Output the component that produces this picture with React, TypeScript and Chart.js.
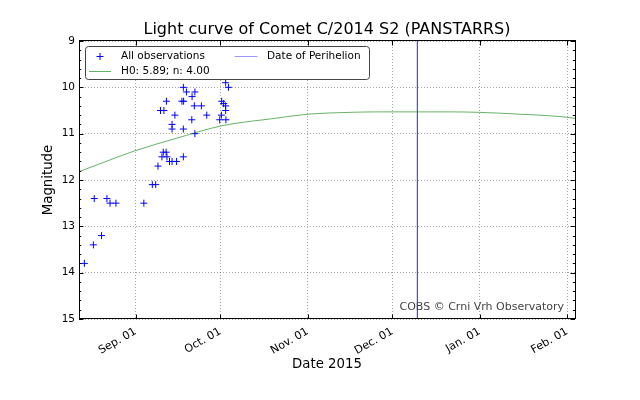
import React, { useEffect, useRef } from "react";
import { Chart, registerables } from "chart.js";

Chart.register(...registerables);

// Days are counted from 2015-09-01 00:00 UT
const obsDay = [
  -18.2, -15.0, -12.1, -14.7, -10.2, -9.1, -7.0, 2.9, 5.9, 7.1,
  7.9, 9.8, 10.8, 9.3, 11.1, 12.0, 12.9, 14.5, 16.9, 16.9,
  18.0, 21.0, 20.0, 10.9, 16.4, 17.0, 20.8, 23.3, 8.8, 10.0,
  13.9, 25.2, 19.9, 12.9, 12.9, 16.9, 21.0, 31.9, 32.9, 30.5,
  31.2, 31.9, 31.9, 30.4, 29.8, 32.0,
];
const obsMag = [
  13.8, 13.4, 13.2, 12.4, 12.4, 12.5, 12.5, 12.5, 12.1, 12.1,
  11.7, 11.4, 11.4, 11.5, 11.5, 11.6, 11.6, 11.6, 11.5, 10.0,
  10.1, 10.1, 10.2, 10.3, 10.3, 10.3, 10.4, 10.4, 10.5, 10.5,
  10.6, 10.6, 10.7, 10.8, 10.9, 10.9, 11.0, 9.9, 10.0, 10.3,
  10.35, 10.4, 10.5, 10.6, 10.7, 10.7,
];

const curveDay = [-20.1, -12.7, -0.3, 13.9, 30.5, 49.3, 61.1, 76, 85, 100, 111.5, 122, 136.3, 150.5, 155.8];
const curveMag = [11.82, 11.65, 11.37, 11.11, 10.83, 10.67, 10.58, 10.54, 10.53, 10.53, 10.53, 10.54, 10.58, 10.63, 10.67];

const perihelionDay = 99.9;

const tickDays = [0, 30, 61, 91, 122, 153];
const tickLabels = ["Sep. 01", "Oct. 01", "Nov. 01", "Dec. 01", "Jan. 01", "Feb. 01"];
const xMin = -20.1;
const xMax = 155.8;
const yMin = 9;
const yMax = 15;

const titleText = "Light curve of Comet C/2014 S2 (PANSTARRS)";
const xTitle = "Date 2015";
const yTitle = "Magnitude";
const obsLabel = "All observations";
const curveLabel = "H0: 5.89; n: 4.00";
const periLabel = "Date of Perihelion";
const creditText = "COBS \u00a9 Crni Vrh Observatory";

const FAMILY = "'DejaVu Sans', sans-serif";
const OBS_COLOR = "rgb(0,0,255)";
const CURVE_COLOR = "rgba(0,128,0,0.6)";
const PERI_COLOR = "rgba(0,0,255,0.4)";

const framePlugin = {
  id: "frameTicks",
  afterDraw(chart: any) {
    const { ctx, chartArea: a } = chart;
    const xs = chart.scales.x;
    const ys = chart.scales.y;
    ctx.save();
    ctx.strokeStyle = "#000";
    ctx.lineWidth = 1;
    ctx.beginPath();
    for (const d of tickDays) {
      const px = Math.round(xs.getPixelForValue(d)) + 0.5;
      ctx.moveTo(px, a.bottom);
      ctx.lineTo(px, a.bottom - 4.5);
      ctx.moveTo(px, a.top);
      ctx.lineTo(px, a.top + 4.5);
    }
    for (let i = 0; i <= 30; i++) {
      const v = yMin + i * 0.2;
      const py = Math.round(ys.getPixelForValue(v)) + 0.5;
      const len = i % 5 === 0 ? 4.5 : 2.2;
      ctx.moveTo(a.left, py);
      ctx.lineTo(a.left + len, py);
      ctx.moveTo(a.right, py);
      ctx.lineTo(a.right - len, py);
    }
    ctx.stroke();
    ctx.strokeRect(Math.round(a.left) + 0.5, Math.round(a.top) - 0.5, Math.round(a.right - a.left), Math.round(a.bottom - a.top));
    // credit
    ctx.font = `11px ${FAMILY}`;
    ctx.fillStyle = "#444";
    ctx.textAlign = "right";
    ctx.textBaseline = "alphabetic";
    ctx.fillText(creditText, a.right - 11, a.bottom - 9);
    ctx.restore();
  },
};

const legendPlugin = {
  id: "boxLegend",
  afterDraw(chart: any) {
    const { ctx, chartArea: a } = chart;
    const x0 = a.left + 6.5;
    const y0 = a.top + 5.5;
    const w = 284;
    const h = 33;
    const r = 3;
    ctx.save();
    ctx.beginPath();
    ctx.moveTo(x0 + r, y0);
    ctx.lineTo(x0 + w - r, y0);
    ctx.arcTo(x0 + w, y0, x0 + w, y0 + r, r);
    ctx.lineTo(x0 + w, y0 + h - r);
    ctx.arcTo(x0 + w, y0 + h, x0 + w - r, y0 + h, r);
    ctx.lineTo(x0 + r, y0 + h);
    ctx.arcTo(x0, y0 + h, x0, y0 + h - r, r);
    ctx.lineTo(x0, y0 + r);
    ctx.arcTo(x0, y0, x0 + r, y0, r);
    ctx.closePath();
    ctx.fillStyle = "#fff";
    ctx.fill();
    ctx.strokeStyle = "#444";
    ctx.lineWidth = 1;
    ctx.stroke();

    const row1 = Math.round(y0 + 9.5) + 0.5;
    const row2 = Math.round(y0 + 24.5) + 0.5;
    ctx.lineWidth = 1;
    // obs marker
    ctx.strokeStyle = OBS_COLOR;
    ctx.beginPath();
    ctx.moveTo(x0 + 14.5 - 3.5, row1);
    ctx.lineTo(x0 + 14.5 + 3.5, row1);
    ctx.moveTo(x0 + 14.5, row1 - 3.5);
    ctx.lineTo(x0 + 14.5, row1 + 3.5);
    ctx.stroke();
    // curve line
    ctx.strokeStyle = CURVE_COLOR;
    ctx.beginPath();
    ctx.moveTo(x0 + 3.5, row2);
    ctx.lineTo(x0 + 25.5, row2);
    ctx.stroke();
    // perihelion line
    ctx.strokeStyle = PERI_COLOR;
    ctx.beginPath();
    ctx.moveTo(x0 + 149, row1);
    ctx.lineTo(x0 + 172, row1);
    ctx.stroke();

    ctx.font = `10.5px ${FAMILY}`;
    ctx.fillStyle = "#000";
    ctx.textAlign = "left";
    ctx.textBaseline = "middle";
    ctx.fillText(obsLabel, x0 + 35.5, y0 + 9.5);
    ctx.fillText(curveLabel, x0 + 35.5, y0 + 24.5);
    ctx.fillText(periLabel, x0 + 181.5, y0 + 9.5);
    ctx.restore();
  },
};

export default function App() {
  const canvasRef = useRef<HTMLCanvasElement | null>(null);

  useEffect(() => {
    document.body.style.margin = "0";
    const canvas = canvasRef.current;
    if (!canvas) return;

    const obsPoints = obsDay.map((d, i) => ({ x: d, y: obsMag[i] }));
    const curvePoints = curveDay.map((d, i) => ({ x: d, y: curveMag[i] }));
    const periPoints = [
      { x: perihelionDay, y: yMin },
      { x: perihelionDay, y: yMax },
    ];

    const chart = new Chart(canvas, {
      type: "scatter",
      data: {
        datasets: [
          {
            label: curveLabel,
            data: curvePoints,
            showLine: true,
            borderColor: CURVE_COLOR,
            borderWidth: 1,
            pointRadius: 0,
            cubicInterpolationMode: "monotone",
          },
          {
            label: periLabel,
            data: periPoints,
            showLine: true,
            borderColor: PERI_COLOR,
            borderWidth: 1,
            pointRadius: 0,
          },
          {
            label: obsLabel,
            data: obsPoints,
            showLine: false,
            pointStyle: "cross",
            pointRadius: 3.5,
            borderColor: OBS_COLOR,
            backgroundColor: OBS_COLOR,
            pointBorderWidth: 1,
          },
        ],
      } as any,
      options: {
        animation: false,
        responsive: false,
        devicePixelRatio: 1,
        layout: { padding: { left: 0, right: 65, top: 0, bottom: 0 } },
        plugins: {
          legend: { display: false },
          tooltip: { enabled: false },
          title: {
            display: true,
            text: titleText,
            fullSize: false,
            color: "#000",
            font: { family: FAMILY, size: 16, weight: "normal" as any, lineHeight: 1.2 },
            padding: { top: 20, bottom: 1.8 },
          },
        },
        scales: {
          x: {
            type: "linear",
            min: xMin,
            max: xMax,
            afterBuildTicks: (s: any) => {
              s.ticks = tickDays.map((v) => ({ value: v }));
            },
            afterFit: (s: any) => {
              s.height = 81;
              s.paddingLeft = 0;
              s.paddingRight = 0;
            },
            ticks: {
              autoSkip: false,
              minRotation: 30,
              maxRotation: 30,
              padding: 6,
              color: "#000",
              font: { family: FAMILY, size: 11 },
              callback: (_v: any, i: number) => tickLabels[i],
            },
            grid: { color: "rgba(0,0,0,0.35)", lineWidth: 1, drawTicks: false },
            border: { display: false, dash: [1, 2] },
            title: {
              display: true,
              text: xTitle,
              color: "#000",
              font: { family: FAMILY, size: 13.3, lineHeight: 1.2 },
              padding: { top: 0, bottom: 27 },
            },
          },
          y: {
            type: "linear",
            reverse: true,
            min: yMin,
            max: yMax,
            afterFit: (s: any) => {
              s.width = 79;
              s.paddingTop = 0;
              s.paddingBottom = 0;
            },
            ticks: {
              stepSize: 1,
              padding: 4,
              color: "#000",
              font: { family: FAMILY, size: 10.5 },
            },
            grid: { color: "rgba(0,0,0,0.35)", lineWidth: 1, drawTicks: false },
            border: { display: false, dash: [1, 2] },
            title: {
              display: true,
              text: yTitle,
              color: "#000",
              font: { family: FAMILY, size: 13.3, lineHeight: 1.2 },
              padding: { top: 41, bottom: 0 },
            },
          },
        },
      } as any,
      plugins: [framePlugin, legendPlugin],
    });

    return () => {
      chart.destroy();
    };
  }, []);

  return (
    <div style={{ width: 640, height: 400 }}>
      <canvas ref={canvasRef} width={640} height={400} style={{ display: "block" }} />
    </div>
  );
}
